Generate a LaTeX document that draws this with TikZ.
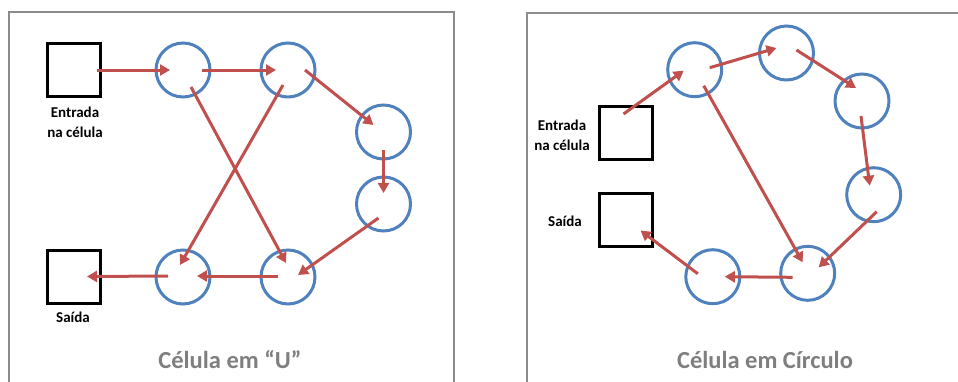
\documentclass[tikz,border=0pt]{standalone}
\usepackage{fontspec}
\setmainfont{Carlito}
\usetikzlibrary{arrows.meta}
\definecolor{frameGray}{HTML}{8C8C8C}
\definecolor{titleGray}{HTML}{7F7F7F}
\definecolor{cellBlue}{HTML}{4F81BD}
\definecolor{flowRed}{HTML}{C0504D}
\tikzset{
  station/.style={circle, draw=cellBlue, line width=3pt, minimum size=54pt, inner sep=0pt},
  buffer/.style={rectangle, draw=black, line width=3pt, minimum size=53pt, inner sep=0pt},
  flow/.style={draw=flowRed, line width=3pt, -{Triangle[length=10pt,width=11pt]}},
  tag/.style={font=\bfseries\fontsize{15}{20}\selectfont, align=center},
  heading/.style={text=titleGray, font=\bfseries\fontsize{24.5}{28}\selectfont}
}
\begin{document}
\begin{tikzpicture}[x=1pt, y=-1pt]
  \useasboundingbox (0,0) rectangle (958,381);
  % frames (open at the bottom)
  \draw[frameGray, line width=2pt] (9,400) -- (9,12) -- (454,12) -- (454,400);
  \draw[frameGray, line width=2pt] (527,400) -- (527,13) -- (975,13);

  % --- cell in U ---
  \node[buffer] (inL) at (74,70) {};
  \node[buffer] (outL) at (74,276.5) {};
  \node[tag] (inLtxt) at (75,122) {Entrada\\na célula};
  \node[tag] (outLtxt) at (73,317) {Saída};
  \foreach \n/\x/\y in {c1/183/70, c2/288/70, c3/383.5/132, c4/383.5/204, c5/288/277, c6/183/277}{
    \node[station] (\n) at (\x,\y) {};
  }
  \draw[flow] ([shift={(23,0)}]inL.center) -- ([shift={(-13,0)}]c1.center);
  \draw[flow] ([shift={(19,0)}]c1.center) -- ([shift={(-12,0)}]c2.center);
  \draw[flow] ([shift={(17,0)}]c2.center) -- ([shift={(-10,-7)}]c3.center);
  \draw[flow] ([shift={(0,18)}]c3.center) -- ([shift={(0,-11)}]c4.center);
  \draw[flow] ([shift={(-5,14)}]c4.center) -- ([shift={(10,-2)}]c5.center);
  \draw[flow] ([shift={(-10,-1)}]c5.center) -- ([shift={(14,-1)}]c6.center);
  \draw[flow] ([shift={(-15,-1)}]c6.center) -- ([shift={(13,0)}]outL.center);
  \draw[flow] ([shift={(8,17)}]c1.center) -- ([shift={(-2,-14)}]c5.center);
  \draw[flow] ([shift={(-5,15)}]c2.center) -- ([shift={(-3,-12)}]c6.center);
  \node[heading] (titleL) at (230,360) {Célula em “U”};

  % --- cell in circle ---
  \node[buffer] (inR) at (625.5,133) {};
  \node[buffer] (outR) at (625.5,219.5) {};
  \node[tag] (inRtxt) at (562,135) {Entrada\\na célula};
  \node[tag] (outRtxt) at (565,221) {Saída};
  \foreach \n/\x/\y in {r1/694.7/69.7, r2/786.5/53, r3/862/101, r4/873.7/194.7, r5/807.7/273.3, r6/712.8/276.7}{
    \node[station] (\n) at (\x,\y) {};
  }
  \draw[flow] ([shift={(-2,-19)}]inR.center) -- ([shift={(-11,1)}]r1.center);
  \draw[flow] ([shift={(15,-2)}]r1.center) -- ([shift={(-10,-5)}]r2.center);
  \draw[flow] ([shift={(10,-3)}]r2.center) -- ([shift={(-6,-13)}]r3.center);
  \draw[flow] ([shift={(-1,15)}]r3.center) -- ([shift={(-4,-9)}]r4.center);
  \draw[flow] ([shift={(3,17)}]r4.center) -- ([shift={(11,-6)}]r5.center);
  \draw[flow] ([shift={(-15,4)}]r5.center) -- ([shift={(12,0)}]r6.center);
  \draw[flow] ([shift={(-15,-3)}]r6.center) -- ([shift={(15,11)}]outR.center);
  \draw[flow] ([shift={(9,16)}]r1.center) -- ([shift={(-5,-11)}]r5.center);
  \node[heading] (titleR) at (765,360) {Célula em Círculo};
\end{tikzpicture}
\end{document}
